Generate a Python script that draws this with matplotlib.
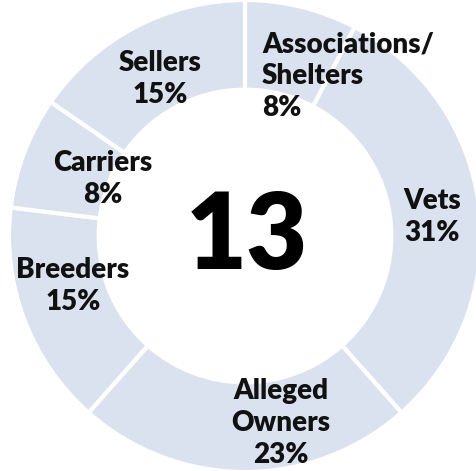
import matplotlib.pyplot as plt

# slices clockwise from top
labels = ["Associations/\nShelters", "Vets", "Alleged\nOwners", "Breeders", "Carriers", "Sellers"]
counts = [1, 4, 3, 2, 1, 2]
total = sum(counts)
pcts = [round(100 * c / total) for c in counts]

# label positions (pixels from top-left) and alignment
label_pos = [(262, 76, "left"), (432, 217, "center"), (281, 423, "center"),
             (73, 286, "center"), (103, 179, "center"), (160, 79, "center")]

W, H = 477, 471
fig = plt.figure(figsize=(W / 100, H / 100), dpi=100)
ax = fig.add_axes([0, 0, 1, 1])
ax.set_xlim(0, W)
ax.set_ylim(0, H)
ax.set_aspect("equal")
ax.axis("off")

cx, cy, r = 245, H - 236, 236
ax.pie(counts, startangle=90, counterclock=False, center=(cx, cy), radius=r,
       colors=["#dbe2ef"] * len(counts),
       wedgeprops=dict(width=r * 0.38, edgecolor="white", linewidth=3))
ax.set_xlim(0, W)
ax.set_ylim(0, H)

font = ["Lato", "DejaVu Sans"]
for lab, p, (x, y, ha) in zip(labels, pcts, label_pos):
    ax.text(x, H - y, f"{lab}\n{p}%", ha=ha, va="center", fontsize=20,
            fontweight="heavy", family=font, color="#111111", linespacing=1.28,
            multialignment=ha)

ax.text(cx + 2, cy - 2, str(total), ha="center", va="center", fontsize=76,
        fontweight="heavy", family=font, color="black")

fig.savefig("out.png", dpi=100)
